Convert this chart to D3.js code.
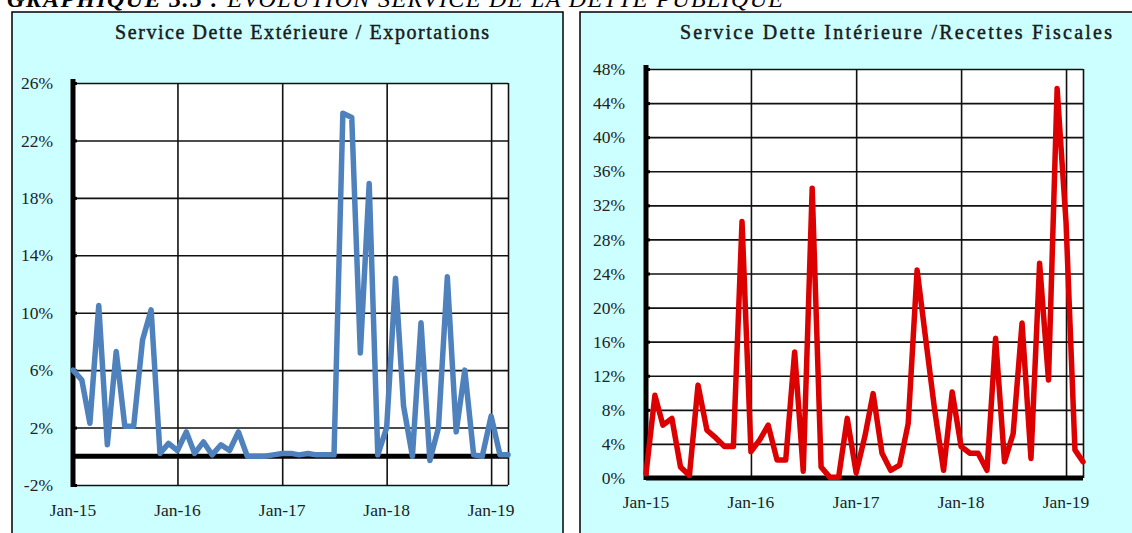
<!DOCTYPE html>
<html>
<head>
<meta charset="utf-8">
<script src="https://cdn.jsdelivr.net/npm/d3@7"></script>
<style>
  body { margin: 0; background: #fff; }
  svg { display: block; }
</style>
</head>
<body>
<div id="svg"></div>
<script>
// monthly points Jan-15 .. Mar-19
const months = d3.timeMonth.range(new Date(2015, 0, 1), new Date(2019, 3, 1))
const yearTicks = [new Date(2015, 0, 1), new Date(2016, 0, 1), new Date(2017, 0, 1), new Date(2018, 0, 1), new Date(2019, 0, 1)]
const yearLabels = ["Jan-15", "Jan-16", "Jan-17", "Jan-18", "Jan-19"]

// Service Dette Extérieure / Exportations (%)
const extValues = [6.0, 5.3, 2.3, 10.5, 0.8, 7.3, 2.1, 2.1, 8.1, 10.2,
                   0.2, 0.9, 0.4, 1.7, 0.2, 1.0, 0.1, 0.8, 0.4, 1.7,
                   0.0, 0.0, 0.0, 0.1, 0.2, 0.2, 0.1, 0.2, 0.1, 0.1,
                   0.1, 23.9, 23.6, 7.2, 19.0, 0.1, 2.0, 12.4, 3.5, 0.0,
                   9.3, -0.3, 2.0, 12.5, 1.7, 6.0, 0.1, 0.0, 2.8, 0.1, 0.1]
const extTicks = [-2, 2, 6, 10, 14, 18, 22, 26]

// Service Dette Intérieure / Recettes Fiscales (%)
const intValues = [0.5, 9.7, 6.2, 7.0, 1.3, 0.3, 10.9, 5.6, 4.7, 3.7,
                   3.7, 30.1, 3.1, 4.5, 6.2, 2.1, 2.1, 14.8, 0.8, 34.0,
                   1.3, 0.1, 0.1, 7.0, 0.6, 5.0, 9.9, 2.9, 0.9, 1.5,
                   6.4, 24.4, 16.0, 8.0, 0.9, 10.1, 3.7, 2.9, 2.9, 0.9,
                   16.4, 1.9, 5.2, 18.2, 2.3, 25.2, 11.5, 45.7, 30.0, 3.3, 1.9]
const intTicks = [0, 4, 8, 12, 16, 20, 24, 28, 32, 36, 40, 44, 48]

const svg = d3.select('#svg')
    .append('svg')
    .attr('width', 1132)
    .attr('height', 533)

const serif = "'Liberation Serif', 'DejaVu Serif', serif"

// heading, cut by the top of the picture as in the source
const head = svg.append("text")
    .attr("x", 7)
    .attr("y", 7)
    .attr("font-family", serif)
    .attr("font-size", "24px")
    .attr("font-style", "italic")
    .attr("fill", "#000")
    .attr("textLength", 776)
    .attr("lengthAdjust", "spacing")
head.append("tspan").attr("font-weight", "bold").text("GRAPHIQUE 3.5 : ")
head.append("tspan").text("ÉVOLUTION  SERVICE DE LA DETTE PUBLIQUE")

const drawPanel = (p) => {
    svg.append("rect")
        .attr("x", p.box[0]).attr("y", p.box[1])
        .attr("width", p.box[2]).attr("height", p.box[3])
        .attr("fill", "#ccffff")
        .attr("stroke", "#000")
        .attr("stroke-width", 1.5)

    svg.append("text")
        .attr("x", p.titleX).attr("y", 39)
        .attr("text-anchor", "middle")
        .attr("font-family", serif)
        .attr("font-size", "20px")
        .attr("fill", "#1a1a1a")
        .attr("stroke", "#1a1a1a")
        .attr("stroke-width", 0.45)
        .attr("textLength", p.titleW)
        .attr("lengthAdjust", "spacing")
        .text(p.title)

    const x = d3.scaleTime().domain([months[0], months[months.length - 1]]).range(p.xr)
    const y = d3.scaleLinear().domain(p.yd).range(p.yr)

    const g = svg.append("g")

    g.append("rect")
        .attr("x", p.xr[0]).attr("y", p.yr[1])
        .attr("width", p.xr[1] - p.xr[0]).attr("height", p.yr[0] - p.yr[1])
        .attr("fill", "#fff")

    // horizontal grid
    g.append("g")
        .attr("transform", "translate(" + p.xr[0] + ",0)")
        .call(d3.axisRight(y).tickValues(p.ticks).tickSize(p.xr[1] - p.xr[0]).tickFormat(""))
        .call(a => a.select(".domain").remove())
        .selectAll("line").attr("stroke", "#111").attr("stroke-width", 1.6)

    // vertical grid at each January + right border
    g.append("g")
        .attr("transform", "translate(0," + p.yr[1] + ")")
        .call(d3.axisBottom(x).tickValues(yearTicks.concat([months[months.length - 1]])).tickSize(p.yr[0] - p.yr[1]).tickFormat(""))
        .call(a => a.select(".domain").remove())
        .selectAll("line").attr("stroke", "#111").attr("stroke-width", 1.6)

    // thick zero line
    g.append("line")
        .attr("x1", p.xr[0]).attr("x2", p.xr[1])
        .attr("y1", y(0)).attr("y2", y(0))
        .attr("stroke", "#000").attr("stroke-width", 5)

    // thick y axis with short ticks
    const ya = g.append("g")
        .attr("transform", "translate(" + p.xr[0] + ",0)")
        .call(d3.axisRight(y).tickValues(p.ticks).tickSize(4).tickFormat(""))
    ya.select(".domain").attr("stroke", "#000").attr("stroke-width", 5)
        .attr("d", "M0," + (p.yr[0] + 2) + "V" + (p.yr[1] - 4))
    ya.selectAll("line").attr("stroke", "#000").attr("stroke-width", 3)

    // y labels
    g.selectAll(".ylab")
        .data(p.ticks)
        .enter()
        .append("text")
        .attr("x", p.labX)
        .attr("y", d => y(d))
        .attr("dy", "0.35em")
        .attr("text-anchor", "end")
        .attr("font-family", serif)
        .attr("font-size", "17.5px")
        .attr("fill", "#222")
        .text(d => d + "%")

    // x labels
    g.selectAll(".xlab")
        .data(yearTicks)
        .enter()
        .append("text")
        .attr("x", d => x(d))
        .attr("y", p.xLabY)
        .attr("text-anchor", "middle")
        .attr("font-family", serif)
        .attr("font-size", "17.5px")
        .attr("fill", "#222")
        .text((d, i) => yearLabels[i])

    const line = d3.line()
        .x((d, i) => x(months[i]))
        .y(d => y(d))

    g.append("path")
        .datum(p.values)
        .attr("d", line)
        .attr("fill", "none")
        .attr("stroke", p.color)
        .attr("stroke-width", 5.5)
        .attr("stroke-linejoin", "round")
        .attr("stroke-linecap", "round")
}

drawPanel({
    box: [12, 12, 551, 540],
    title: "Service Dette Extérieure / Exportations",
    titleX: 302,
    titleW: 374,
    xr: [73, 508],
    yd: [-2, 26],
    yr: [485, 83],
    ticks: extTicks,
    labX: 53,
    xLabY: 516,
    values: extValues,
    color: "#4f81bd"
})

drawPanel({
    box: [580, 12, 570, 540],
    title: "Service Dette Intérieure /Recettes Fiscales",
    titleX: 896,
    titleW: 432,
    xr: [646, 1083],
    yd: [0, 48],
    yr: [478, 69],
    ticks: intTicks,
    labX: 625,
    xLabY: 508,
    values: intValues,
    color: "#dd0000"
})
</script>
</body>
</html>
